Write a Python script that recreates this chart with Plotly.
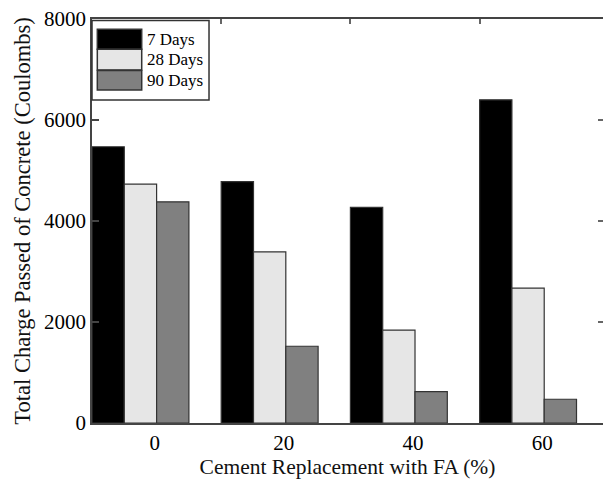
import plotly.graph_objects as go

categories = [0, 20, 40, 60]
series_names = ["7 Days", "28 Days", "90 Days"]
days7 = [5470, 4780, 4270, 6400]
days28 = [4730, 3390, 1840, 2670]
days90 = [4380, 1520, 620, 470]
y_ticks = [0, 2000, 4000, 6000, 8000]

colors = ["#000000", "#e6e6e6", "#808080"]
FONT = "Liberation Serif, Times New Roman, serif"

fig = go.Figure()
for name, vals, col in zip(series_names, [days7, days28, days90], colors):
    fig.add_trace(go.Bar(
        x=categories, y=vals, name=name,
        marker=dict(color=col, line=dict(color="#333333", width=1.2)),
        showlegend=False,
    ))

# invisible trace to anchor the mirror axes
fig.add_trace(go.Scatter(x=[0], y=[0], xaxis="x2", yaxis="y2",
                         mode="markers", marker=dict(opacity=0),
                         showlegend=False, hoverinfo="skip"))

xr = [-7.5, 71.6]
fig.update_layout(
    width=603, height=479,
    margin=dict(l=92, r=0, t=19, b=56),
    paper_bgcolor="white", plot_bgcolor="white",
    barmode="group", bargap=0.25, bargroupgap=0,
    font=dict(family=FONT, size=21, color="black"),
    xaxis=dict(
        range=xr, showgrid=False, zeroline=False,
        showline=True, linecolor="#444444", linewidth=1.5,
        tickmode="array", tickvals=[c + 2.2 for c in categories],
        ticktext=[str(c) for c in categories], ticks="",
        title=dict(text="Cement Replacement with FA (%)", standoff=2,
                   font=dict(family=FONT, size=21.5, color="#111111")),
    ),
    yaxis=dict(
        range=[0, 8000], showgrid=False, zeroline=False,
        showline=True, linecolor="#444444", linewidth=1.5,
        tickmode="array", tickvals=y_ticks, ticktext=[str(v) for v in y_ticks],
        ticks="inside", ticklen=7, tickcolor="#444444", tickwidth=1.5,
        title=dict(text="Total Charge Passed of Concrete (Coulombs)", standoff=7,
                   font=dict(family=FONT, size=22.5, color="#111111")),
    ),
    xaxis2=dict(
        overlaying="x", side="top", range=xr, showgrid=False, zeroline=False,
        showline=True, linecolor="#444444", linewidth=1.5,
        tickmode="array", tickvals=[c - 7.5 for c in categories],
        ticks="inside", ticklen=5, tickcolor="#666666", tickwidth=1.5,
        showticklabels=False,
    ),
    yaxis2=dict(
        overlaying="y", side="right", range=[0, 8000], showgrid=False,
        zeroline=False, showline=False,
        tickmode="array", tickvals=y_ticks[1:-1],
        ticks="inside", ticklen=5, tickcolor="#666666", tickwidth=1.5,
        showticklabels=False,
    ),
)

# custom legend (large swatches, as in the reference)
shapes = [dict(type="rect", xref="paper", yref="paper",
               x0=0, x1=0.229, y0=0.7995, y1=0.996,
               line=dict(color="#333333", width=1.5), fillcolor="white", layer="above")]
sw_y = [(0.925, 0.9745), (0.8738, 0.925), (0.824, 0.8725)]
annotations = []
for name, col, (y0, y1) in zip(series_names, colors, sw_y):
    shapes.append(dict(type="rect", xref="paper", yref="paper",
                       x0=0.0104, x1=0.0973, y0=y0, y1=y1,
                       line=dict(color="#333333", width=1.5), fillcolor=col, layer="above"))
    annotations.append(dict(xref="paper", yref="paper", x=0.103, y=(y0 + y1) / 2,
                            text=name, showarrow=False, xanchor="left", yanchor="middle",
                            font=dict(family=FONT, size=17, color="black")))
fig.update_layout(shapes=shapes, annotations=annotations)

fig.write_html("out.html")
